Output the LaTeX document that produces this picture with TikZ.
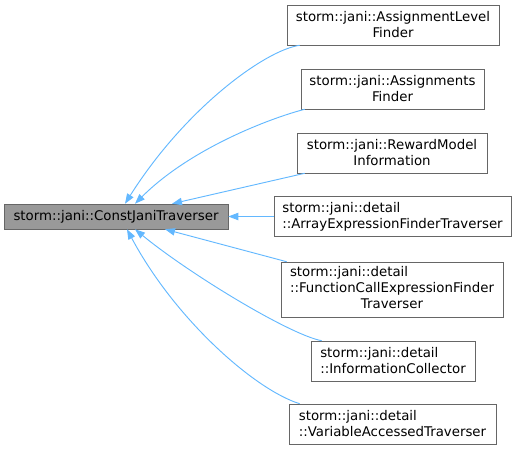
\documentclass[tikz,border=0pt]{standalone}
\usepackage{fontspec}
\setmainfont{DejaVu Sans}
\usepackage{tikz}
\usetikzlibrary{arrows.meta, calc}
\definecolor{edgeblue}{RGB}{99,184,255}
\definecolor{boxline}{RGB}{102,102,102}
\definecolor{basefill}{RGB}{153,153,153}
\tikzset{
  classbox/.style={draw=boxline, fill=white, inner sep=0pt, minimum height=30pt, font=\fontsize{10}{12}\selectfont},
  baseclass/.style={classbox, fill=basefill, minimum height=18.75pt},
  inherit/.style={draw=edgeblue, line width=0.7pt, -{Triangle[length=7.5pt, width=5.5pt]}}
}

\begin{document}
\begin{tikzpicture}[x=0.75pt, y=-0.75pt]
		\useasboundingbox (0,0) rectangle (516,451);
		% base class
		\node[baseclass, minimum width=168pt] (base) at (116,216.5) {storm::jani::ConstJaniTraverser};
		% derived classes
		\node[classbox, minimum width=159pt, align=center] (alf) at (393,25) {storm::jani::AssignmentLevel\\Finder};
		\node[classbox, minimum width=137.25pt, align=center] (af) at (392.5,89) {storm::jani::Assignments\\Finder};
		\node[classbox, minimum width=142.5pt, align=center] (rmi) at (392,153) {storm::jani::RewardModel\\Information};
		\node[classbox, minimum width=177.75pt, align=left] (aeft) at (392.5,216.5) {storm::jani::detail\\::ArrayExpressionFinderTraverser};
		\node[classbox, minimum width=166.5pt, minimum height=41.25pt] (fcef) at (392,289.5)
			{\begin{tabular}{@{}l@{}}storm::jani::detail\\::FunctionCallExpressionFinder\\\multicolumn{1}{@{}c@{}}{Traverser}\end{tabular}};
		\node[classbox, minimum width=123pt, align=left] (ic) at (393,361) {storm::jani::detail\\::InformationCollector};
		\node[classbox, minimum width=155.25pt, align=left] (vat) at (392.5,424) {storm::jani::detail\\::VariableAccessedTraverser};
		% inheritance arrows
		\draw[inherit] ($(alf.south west)+(13,0)$) .. controls +(-35,5) and +(60,-95) .. ($(base.north)+(9,0)$);
		\draw[inherit] ($(af.south west)+(4,0)$) .. controls +(-35,9) and +(55,-55) .. ($(base.north)+(19,0)$);
		\draw[inherit] ($(rmi.south west)+(8,0)$) -- ($(base.north)+(56,0)$);
		\draw[inherit] (aeft.west) -- (base.east);
		\draw[inherit] ($(fcef.north west)+(6,0)$) -- ($(base.south)+(49,0)$);
		\draw[inherit] ($(ic.north west)+(11,0)$) .. controls +(-32,-6) and +(55,45) .. ($(base.south)+(19,0)$);
		\draw[inherit] ($(vat.north west)+(11,0)$) .. controls +(-45,-14) and +(48,90) .. ($(base.south)+(11,0)$);
	\end{tikzpicture}
\end{document}
